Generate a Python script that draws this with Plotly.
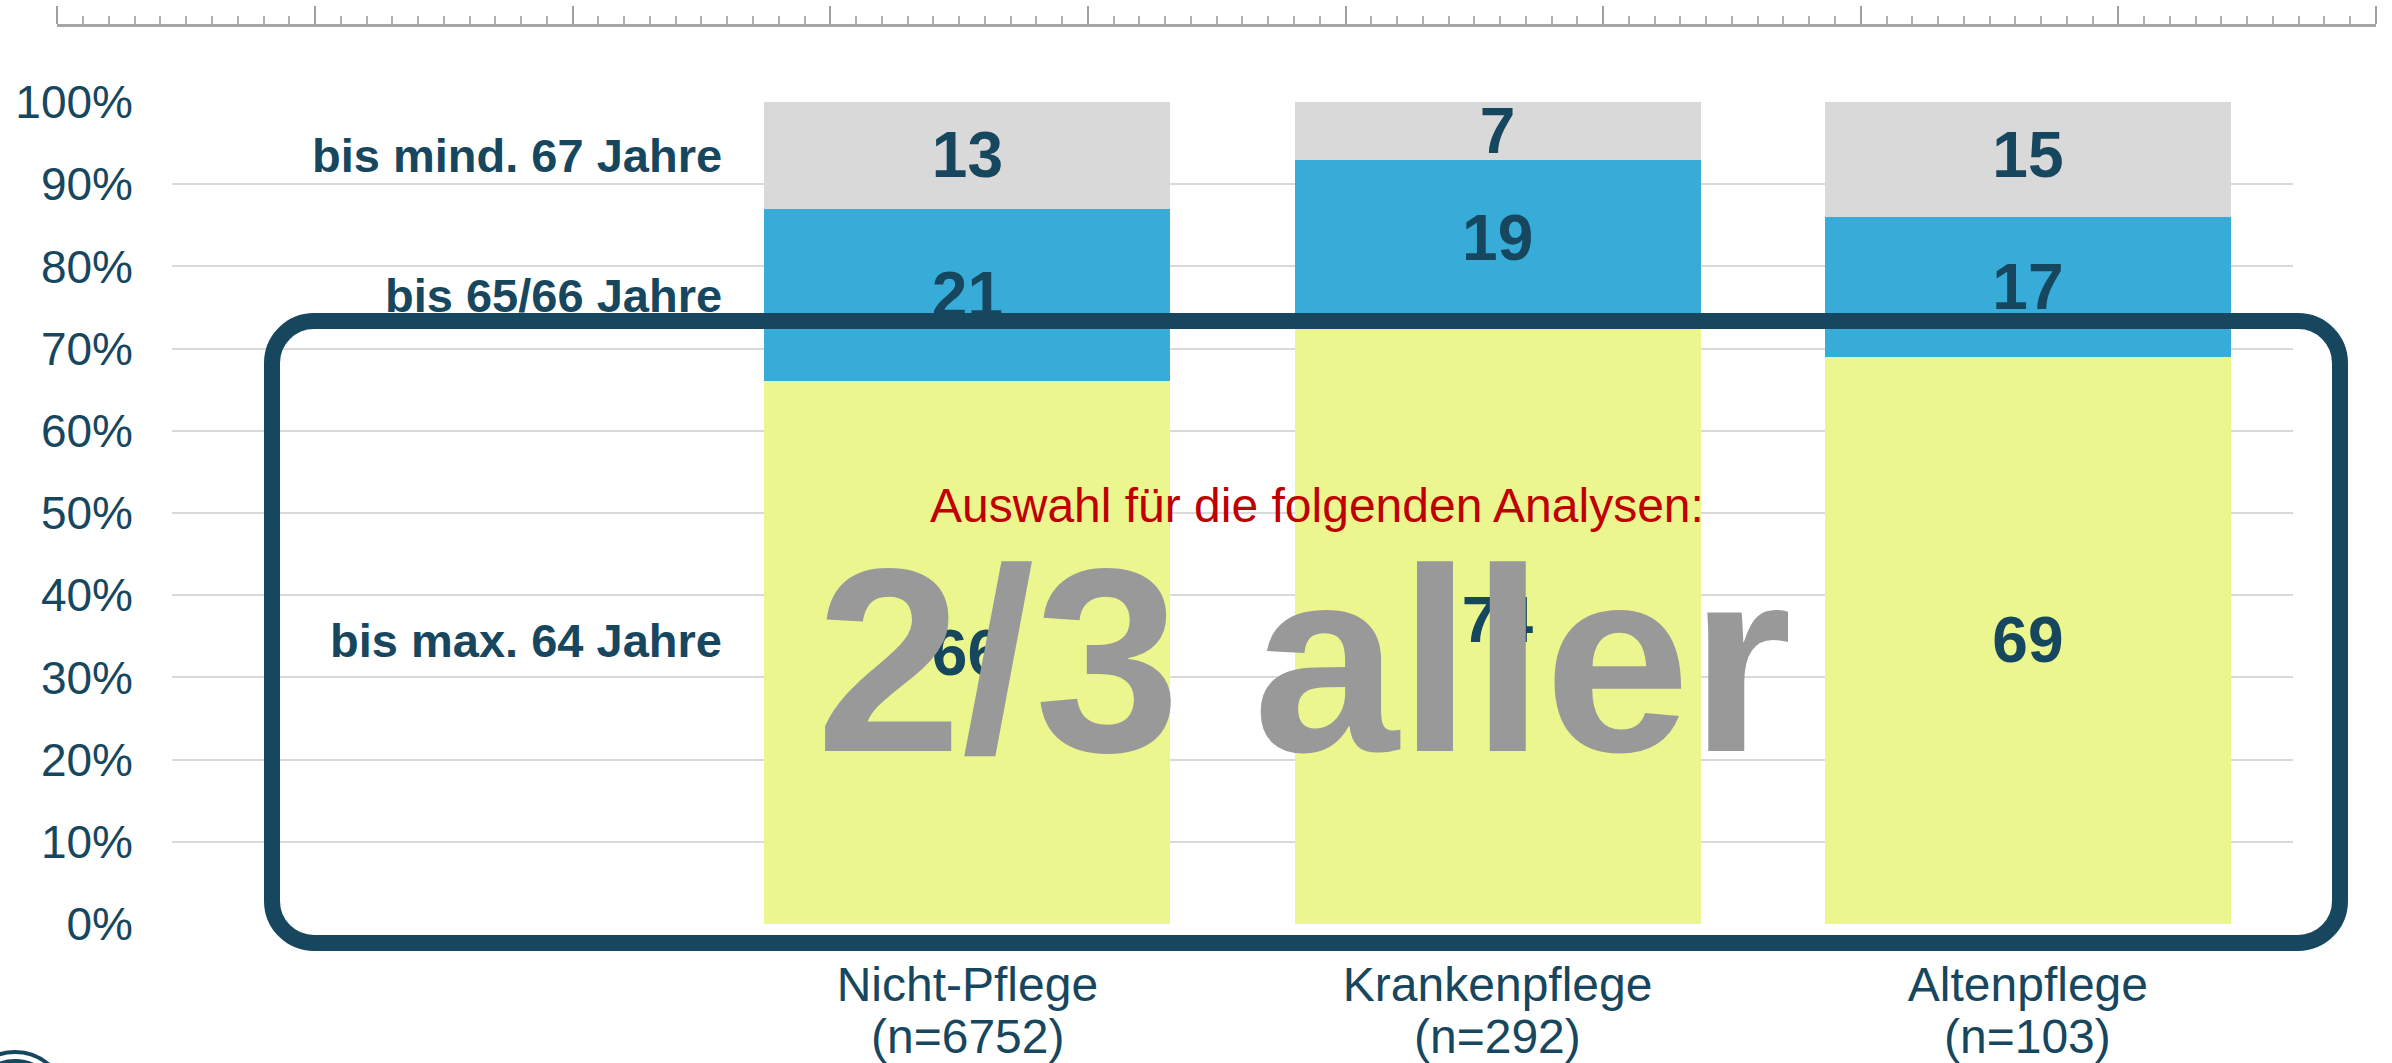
import plotly.graph_objects as go

W, H = 2392, 1063          # page (screenshot) size; body margin is reset to 0 below

# ---------------- data ----------------
categories = ["Nicht-Pflege", "Krankenpflege", "Altenpflege"]
n_counts = [6752, 292, 103]
placeholder = " "
series_names = ["bis max. 64 Jahre", "bis 65/66 Jahre", "bis mind. 67 Jahre"]
val_max64 = [66, 74, 69]
val_6566 = [21, 19, 17]
val_min67 = [13, 7, 15]
y_ticks = [0, 10, 20, 30, 40, 50, 60, 70, 80, 90, 100]
y_ticktext = [f"{v}%" for v in y_ticks]
note_text = "Auswahl für die folgenden Analysen:"
big_text = "2/3 aller"

# ---------------- styles ----------------
NAVY = "#17475E"
COLORS = ["#EBF68F", "#38ACD8", "#D9D9D9"]
FONT = "Liberation Sans, Arial, Helvetica, sans-serif"


def px(x):
    return x / W


def py(y):
    return 1 - y / H


fig = go.Figure()
all_series = [val_max64, val_6566, val_min67]
for name, vals, col in zip(series_names, all_series, COLORS):
    fig.add_trace(go.Bar(
        x=categories, y=vals, name=name, text=vals,
        marker=dict(color=col, line=dict(width=0)),
        texttemplate="%{text}", textposition="inside", insidetextanchor="middle",
        textangle=0,
        textfont=dict(family=FONT, size=64, color=NAVY, weight="bold"),
        cliponaxis=True, showlegend=False, hoverinfo="skip",
    ))

# invisible trace to carry the ruler axis
fig.add_trace(go.Scatter(x=[0, 9], y=[None, None], xaxis="x2", yaxis="y2",
                         mode="markers", showlegend=False, hoverinfo="skip"))

# sample sizes under the category names
for cat, n in zip(categories, n_counts):
    fig.add_annotation(x=cat, xref="x", y=py(1036), yref="paper",
                       text=f"(n={n})", showarrow=False, xanchor="center", yanchor="middle",
                       font=dict(family=FONT, size=48, color=NAVY))

# series labels at the middle of the first bar's segments
label_shift = [12, 0, 0]
cum = 0
for name, vals, ys in zip(series_names, all_series, label_shift):
    mid = cum + vals[0] / 2
    cum += vals[0]
    fig.add_annotation(x=px(724), xref="paper", y=mid, yref="y", yshift=ys,
                       text=name, showarrow=False, xanchor="right", yanchor="middle",
                       font=dict(family=FONT, size=47, color=NAVY, weight="bold"))

# red note
fig.add_annotation(x=px(1317), xref="paper", y=py(505), yref="paper",
                   text=note_text, showarrow=False, xanchor="center", yanchor="middle",
                   font=dict(family=FONT, size=48, color="#C00000"))
# big grey text
fig.add_annotation(x=px(1304), xref="paper", y=py(660), yref="paper",
                   text=big_text, showarrow=False, xanchor="center", yanchor="middle",
                   font=dict(family=FONT, size=262, color="#999999", weight="bold"))

# rounded highlight box
L, R, T, B, r = 272, 2340, 321, 943, 42
k = 0.5523 * r


def P(x, y):
    return f"{px(x):.5f},{py(y):.5f}"


path = (f"M {P(L + r, T)} L {P(R - r, T)} "
        f"C {P(R - r + k, T)} {P(R, T + r - k)} {P(R, T + r)} "
        f"L {P(R, B - r)} "
        f"C {P(R, B - r + k)} {P(R - r + k, B)} {P(R - r, B)} "
        f"L {P(L + r, B)} "
        f"C {P(L + r - k, B)} {P(L, B - r + k)} {P(L, B - r)} "
        f"L {P(L, T + r)} "
        f"C {P(L, T + r - k)} {P(L + r - k, T)} {P(L + r, T)} Z")
fig.add_shape(type="path", path=path, xref="paper", yref="paper",
              line=dict(color=NAVY, width=16), fillcolor="rgba(0,0,0,0)", layer="above")

# partial logo in the bottom-left corner
for rad in [52, 43, 34]:
    cx, cy = 15, 1104
    fig.add_shape(type="circle", xref="paper", yref="paper",
                  x0=px(cx - rad), x1=px(cx + rad), y0=py(cy + rad), y1=py(cy - rad),
                  line=dict(color=NAVY, width=4), layer="above")

fig.update_layout(
    template="none",
    width=W, height=H, autosize=False,
    margin=dict(l=0, r=0, t=0, b=0, pad=0),
    paper_bgcolor="white", plot_bgcolor="white",
    barmode="stack", bargap=0.234,
    uniformtext=dict(minsize=64, mode="show"),
    xaxis=dict(
        domain=[px(172), px(2293)],
        type="category", categoryorder="array",
        categoryarray=[placeholder] + categories,
        range=[-0.5, 3.5], automargin=False,
        showgrid=False, zeroline=False, showline=False, ticks="",
        tickfont=dict(family=FONT, size=48, color=NAVY),
        ticklabelstandoff=28,
        fixedrange=True,
    ),
    yaxis=dict(
        domain=[py(924), py(102)],
        range=[0, 100], tickvals=y_ticks, ticktext=y_ticktext,
        automargin=False,
        showgrid=True, gridcolor="#D9D9D9", gridwidth=2,
        zeroline=False, showline=False, ticks="",
        tickfont=dict(family=FONT, size=46, color=NAVY),
        ticklabelstandoff=38,
        fixedrange=True,
    ),
    xaxis2=dict(
        domain=[px(57.4), px(2376)], anchor="y2", side="top",
        range=[0, 9], dtick=1, tick0=0, automargin=False,
        showticklabels=False, showgrid=False, zeroline=False,
        showline=True, linecolor="#A6A6A6", linewidth=3,
        ticks="outside", ticklen=18, tickwidth=2, tickcolor="#A0A0A0",
        minor=dict(dtick=0.1, ticks="outside", ticklen=8, tickwidth=2, tickcolor="#B0B0B0",
                   showgrid=False),
        fixedrange=True,
    ),
    yaxis2=dict(
        domain=[py(60), py(27)], anchor="x2", range=[0, 1], automargin=False,
        showticklabels=False, showgrid=False, zeroline=False, showline=False,
        fixedrange=True,
    ),
    showlegend=False,
)

fig.write_html(
    "out.html",
    config={"displayModeBar": False},
    post_script="document.body.style.margin='0';document.body.style.overflow='hidden';",
)
